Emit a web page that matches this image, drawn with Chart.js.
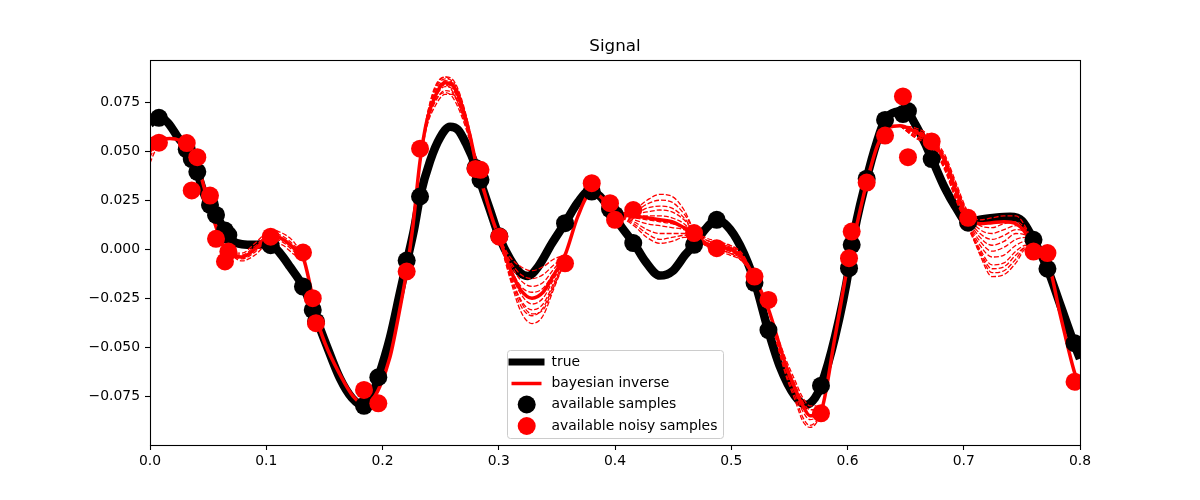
<!DOCTYPE html>
<html><head><meta charset="utf-8">
<script src="https://cdn.jsdelivr.net/npm/chart.js@4/dist/chart.umd.min.js"></script>
<style>html,body{margin:0;padding:0;background:#fff;}canvas{display:block;}</style>
</head><body>
<canvas id="c" width="1200" height="500"></canvas>
<script>
const titleText = 'Signal';
const xTicks = [0.0,0.1,0.2,0.3,0.4,0.5,0.6,0.7,0.8];
const yTicks = [-0.075,-0.050,-0.025,0.000,0.025,0.050,0.075];
const legendLabels = ['true','bayesian inverse','available samples','available noisy samples'];

const trueX = [0.0000,0.0077,0.0155,0.0241,0.0318,0.0404,0.0473,0.0516,0.0568,0.0645,0.0705,0.0791,0.0903,0.0989,0.1041,0.1118,0.1204,0.1316,0.1402,0.1505,0.1634,0.1738,0.1841,0.1901,0.1961,0.2065,0.2151,0.2211,0.2271,0.2323,0.2409,0.2495,0.2581,0.2649,0.2718,0.2804,0.2839,0.2925,0.3002,0.3097,0.3183,0.3252,0.3338,0.3458,0.3570,0.3682,0.3785,0.3871,0.3966,0.4060,0.4163,0.4258,0.4387,0.4499,0.4602,0.4680,0.4774,0.4877,0.4963,0.5075,0.5204,0.5316,0.5419,0.5548,0.5643,0.5720,0.5772,0.5892,0.6013,0.6039,0.6165,0.6254,0.6323,0.6409,0.6503,0.6581,0.6667,0.6727,0.6839,0.6925,0.7037,0.7140,0.7269,0.7398,0.7501,0.7600,0.7720,0.7828,0.7948,0.8000];
const trueY = [0.064,0.0675,0.0645,0.057,0.051,0.0395,0.027,0.0226,0.0175,0.0095,0.0045,0.0025,0.0022,0.0025,0.0022,-0.002,-0.009,-0.019,-0.031,-0.047,-0.066,-0.076,-0.080,-0.076,-0.066,-0.045,-0.022,-0.006,0.010,0.027,0.045,0.057,0.0625,0.061,0.054,0.042,0.035,0.020,0.0066,-0.005,-0.012,-0.0137,-0.009,0.003,0.0133,0.024,0.030,0.027,0.0195,0.011,0.003,-0.006,-0.0135,-0.011,-0.003,0.0022,0.010,0.0148,0.012,0.002,-0.017,-0.041,-0.060,-0.075,-0.0795,-0.076,-0.0697,-0.045,-0.0097,0.0022,0.036,0.055,0.066,0.070,0.0705,0.064,0.054,0.046,0.031,0.022,0.0135,0.015,0.016,0.0165,0.0145,0.0048,-0.0100,-0.028,-0.048,-0.056];

const meanX = [0.0000,0.0077,0.0172,0.0258,0.0318,0.0404,0.0473,0.0533,0.0594,0.0671,0.0791,0.0903,0.1041,0.1144,0.1247,0.1316,0.1376,0.1428,0.1505,0.1634,0.1746,0.1841,0.1910,0.1978,0.2065,0.2151,0.2211,0.2262,0.2323,0.2383,0.2452,0.2538,0.2598,0.2667,0.2753,0.2804,0.2882,0.2942,0.3002,0.3097,0.3191,0.3286,0.3381,0.3475,0.3570,0.3682,0.3785,0.3871,0.4000,0.4163,0.4275,0.4387,0.4490,0.4594,0.4680,0.4774,0.4877,0.4989,0.5092,0.5196,0.5316,0.5462,0.5548,0.5617,0.5677,0.5729,0.5772,0.5892,0.6013,0.6090,0.6165,0.6258,0.6352,0.6452,0.6581,0.6727,0.6839,0.6933,0.7037,0.7140,0.7243,0.7346,0.7449,0.7535,0.7604,0.7716,0.7828,0.7948,0.8000];
const meanY = [0.050,0.0555,0.0565,0.0555,0.053,0.044,0.030,0.018,0.007,-0.002,-0.004,0.000,0.0068,0.005,0.000,-0.004,-0.018,-0.034,-0.048,-0.064,-0.075,-0.079,-0.077,-0.070,-0.055,-0.030,-0.010,0.012,0.045,0.066,0.078,0.085,0.084,0.076,0.058,0.044,0.028,0.016,0.006,-0.010,-0.021,-0.025,-0.022,-0.013,-0.003,0.017,0.028,0.027,0.018,0.017,0.016,0.015,0.014,0.011,0.008,0.003,0.001,0.000,-0.004,-0.014,-0.030,-0.058,-0.071,-0.080,-0.085,-0.085,-0.083,-0.045,-0.005,0.015,0.034,0.053,0.062,0.063,0.060,0.055,0.045,0.030,0.016,0.013,0.0135,0.014,0.013,0.008,0.000,-0.005,-0.033,-0.062,-0.071];

// posterior sample curves (dashed), only where they separate from the main red curve
const bandFX = [0.0000,0.0043,0.0086,0.0155];
const bandF = [
 [0.057,0.057,0.057,0.0565],
 [0.054,0.056,0.0565,0.0565],
 [0.047,0.052,0.055,0.0565],
 [0.044,0.050,0.054,0.0565]];
const bandGX = [0.0671,0.0791,0.0903,0.1041,0.1144,0.1247,0.1316];
const bandG = [
 [-0.002,-0.002,0.003,0.0095,0.008,0.003,-0.004],
 [-0.002,-0.003,0.0015,0.008,0.0065,0.0015,-0.004],
 [-0.002,-0.005,-0.0015,0.0055,0.0035,-0.0015,-0.004],
 [-0.002,-0.006,-0.003,0.004,0.002,-0.003,-0.004]];
const bandAX = [0.2323,0.2383,0.2452,0.2538,0.2598,0.2667,0.2753,0.2804];
const bandA = [
 [0.045,0.068,0.082,0.088,0.087,0.079,0.060,0.044],
 [0.045,0.067,0.081,0.087,0.086,0.078,0.059,0.044],
 [0.045,0.067,0.080,0.086,0.085,0.077,0.059,0.044],
 [0.045,0.066,0.078,0.084,0.083,0.075,0.058,0.044],
 [0.045,0.065,0.077,0.083,0.082,0.074,0.057,0.044],
 [0.045,0.064,0.075,0.081,0.080,0.073,0.057,0.044],
 [0.045,0.063,0.073,0.079,0.079,0.072,0.056,0.044],
 [0.045,0.065,0.076,0.080,0.078,0.070,0.055,0.044],
 [0.045,0.067,0.079,0.084,0.081,0.072,0.056,0.044],
 [0.045,0.068,0.083,0.088,0.085,0.075,0.058,0.044]];
const bandBX = [0.3002,0.3097,0.3191,0.3286,0.3381,0.3475,0.3570];
const bandB = [
 [0.006,-0.004,-0.009,-0.011,-0.009,-0.005,-0.003],
 [0.006,-0.006,-0.013,-0.015,-0.013,-0.008,-0.004],
 [0.006,-0.007,-0.016,-0.019,-0.017,-0.010,-0.004],
 [0.006,-0.009,-0.019,-0.022,-0.020,-0.012,-0.004],
 [0.006,-0.010,-0.021,-0.025,-0.022,-0.013,-0.005],
 [0.006,-0.011,-0.023,-0.028,-0.025,-0.015,-0.005],
 [0.006,-0.012,-0.026,-0.031,-0.028,-0.017,-0.005],
 [0.006,-0.014,-0.029,-0.034,-0.030,-0.018,-0.006],
 [0.006,-0.015,-0.032,-0.038,-0.034,-0.020,-0.006],
 [0.006,-0.013,-0.027,-0.033,-0.031,-0.019,-0.006]];
const bandCX = [0.4000,0.4163,0.4275,0.4387,0.4490,0.4594,0.4680,0.4774,0.4877,0.4989,0.5092,0.5196];
const bandC = [
 [0.018,0.020,0.025,0.028,0.027,0.020,0.010,0.006,0.004,0.002,-0.002,-0.014],
 [0.018,0.019,0.023,0.025,0.024,0.018,0.010,0.005,0.003,0.002,-0.003,-0.014],
 [0.018,0.018,0.021,0.022,0.021,0.016,0.009,0.005,0.003,0.001,-0.003,-0.014],
 [0.018,0.018,0.019,0.020,0.019,0.015,0.009,0.004,0.002,0.001,-0.004,-0.014],
 [0.018,0.017,0.017,0.017,0.016,0.013,0.008,0.004,0.001,0.000,-0.004,-0.014],
 [0.018,0.016,0.015,0.014,0.013,0.011,0.008,0.003,0.001,-0.001,-0.005,-0.014],
 [0.018,0.015,0.013,0.012,0.011,0.010,0.007,0.003,0.000,-0.001,-0.005,-0.014],
 [0.018,0.014,0.010,0.008,0.008,0.008,0.007,0.002,0.000,-0.002,-0.006,-0.014],
 [0.018,0.012,0.006,0.003,0.004,0.006,0.006,0.002,-0.001,-0.003,-0.006,-0.014],
 [0.018,0.013,0.008,0.005,0.006,0.007,0.007,0.003,0.000,-0.002,-0.005,-0.014]];
const bandDX = [0.5316,0.5462,0.5548,0.5617,0.5677,0.5729,0.5772];
const bandD = [
 [-0.030,-0.055,-0.067,-0.076,-0.080,-0.080,-0.083],
 [-0.030,-0.057,-0.069,-0.078,-0.082,-0.082,-0.083],
 [-0.030,-0.058,-0.071,-0.081,-0.085,-0.084,-0.083],
 [-0.030,-0.060,-0.073,-0.083,-0.087,-0.086,-0.083],
 [-0.030,-0.062,-0.075,-0.086,-0.090,-0.088,-0.083],
 [-0.030,-0.063,-0.077,-0.088,-0.091,-0.089,-0.083]];
const bandEX = [0.6452,0.6581,0.6727,0.6839,0.6933,0.7037,0.7140,0.7243,0.7346,0.7449,0.7535,0.7604,0.7716];
const bandE = [
 [0.063,0.062,0.057,0.048,0.034,0.019,0.015,0.016,0.017,0.017,0.011,0.002,-0.005],
 [0.063,0.061,0.056,0.047,0.033,0.018,0.012,0.011,0.013,0.014,0.010,0.002,-0.005],
 [0.063,0.061,0.056,0.046,0.032,0.017,0.010,0.008,0.010,0.012,0.009,0.001,-0.005],
 [0.063,0.060,0.055,0.045,0.030,0.016,0.008,0.005,0.007,0.010,0.008,0.000,-0.005],
 [0.063,0.059,0.054,0.044,0.029,0.015,0.006,0.002,0.004,0.008,0.007,0.000,-0.005],
 [0.063,0.059,0.054,0.043,0.028,0.014,0.004,-0.001,0.001,0.005,0.006,-0.001,-0.005],
 [0.063,0.058,0.053,0.042,0.027,0.013,0.002,-0.004,-0.003,0.002,0.004,-0.001,-0.005],
 [0.063,0.058,0.053,0.041,0.026,0.012,0.000,-0.008,-0.007,-0.001,0.002,-0.001,-0.005],
 [0.063,0.057,0.052,0.040,0.025,0.011,-0.002,-0.012,-0.011,-0.005,0.001,-0.001,-0.005],
 [0.063,0.057,0.052,0.041,0.026,0.012,-0.001,-0.010,-0.009,-0.003,0.001,-0.001,-0.005],
 [0.063,0.058,0.053,0.042,0.027,0.013,-0.003,-0.014,-0.013,-0.007,0.000,-0.001,-0.005]];

const sampleX = [0.0077,0.0316,0.0359,0.0407,0.0516,0.0568,0.0645,0.0674,0.1038,0.1316,0.1400,0.1428,0.1841,0.1964,0.2208,0.2323,0.2800,0.2843,0.3005,0.3570,0.3800,0.3957,0.4000,0.4157,0.4680,0.4875,0.5200,0.5320,0.5772,0.6013,0.6036,0.6165,0.6323,0.6477,0.6520,0.6724,0.7037,0.7600,0.7720,0.7953];
const sampleTrue = [0.0671,0.0510,0.0460,0.0395,0.0226,0.0175,0.0095,0.0072,0.0020,-0.0191,-0.0310,-0.0370,-0.0800,-0.0654,-0.0058,0.0269,0.0415,0.0354,0.0066,0.0133,0.0294,0.0205,0.0175,0.0031,0.0022,0.0150,-0.0172,-0.0413,-0.0697,-0.0097,0.0022,0.0360,0.0660,0.0690,0.0705,0.0460,0.0135,0.0048,-0.0100,-0.0480];
const sampleNoisy = [0.0544,0.0542,0.0300,0.0470,0.0274,0.0053,-0.0063,-0.0012,0.0064,-0.0017,-0.0250,-0.0378,-0.0719,-0.0787,-0.0114,0.0513,0.0410,0.0405,0.0064,-0.0072,0.0337,0.0235,0.0150,0.0200,0.0082,0.0005,-0.0140,-0.0259,-0.0838,-0.0046,0.0090,0.0340,0.0580,0.0780,0.0470,0.0550,0.0160,-0.0012,-0.0020,-0.0677];

const zip = (xs, ys) => xs.map((x, i) => ({x: x, y: ys[i]}));
const RED = '#ff0000', BLACK = '#000000';
const FONT = '"DejaVu Sans", sans-serif';

const datasets = [];
datasets.push({label: legendLabels[0], data: zip(trueX, trueY), borderColor: BLACK, borderWidth: 8.5,
  pointRadius: 0, cubicInterpolationMode: 'monotone', borderJoinStyle: 'round', order: 5, clip: 0});
[[bandFX, bandF], [bandGX, bandG], [bandAX, bandA], [bandBX, bandB], [bandCX, bandC], [bandDX, bandD], [bandEX, bandE]]
  .forEach(([bx, curves]) => curves.forEach(c => datasets.push({data: zip(bx, c), borderColor: RED,
    borderWidth: 1.3, borderDash: [5, 2], pointRadius: 0, cubicInterpolationMode: 'monotone', order: 4, clip: 0})));
datasets.push({label: legendLabels[1], data: zip(meanX, meanY), borderColor: RED, borderWidth: 3.5,
  pointRadius: 0, cubicInterpolationMode: 'monotone', borderJoinStyle: 'round', order: 3, clip: 0});
datasets.push({label: legendLabels[2], data: zip(sampleX, sampleTrue), showLine: false, pointRadius: 9,
  pointBackgroundColor: BLACK, pointBorderColor: BLACK, pointBorderWidth: 0, order: 2, clip: 0});
datasets.push({label: legendLabels[3], data: zip(sampleX, sampleNoisy), showLine: false, pointRadius: 9,
  pointBackgroundColor: RED, pointBorderColor: RED, pointBorderWidth: 0, order: 1, clip: 0});

const fmtY = v => (v < 0 ? '\u2212' : '') + Math.abs(v).toFixed(3);

const bgPlugin = {
  id: 'bg',
  beforeDraw(chart) {
    const ctx = chart.ctx; ctx.save(); ctx.fillStyle = '#fff';
    ctx.fillRect(0, 0, chart.width, chart.height); ctx.restore();
  }
};
const framePlugin = {
  id: 'frame',
  afterDatasetsDraw(chart) {
    const a = chart.chartArea, ctx = chart.ctx;
    ctx.save(); ctx.strokeStyle = '#000'; ctx.lineWidth = 1.1;
    ctx.strokeRect(Math.round(a.left) + 0.5, Math.round(a.top) + 0.5,
      Math.round(a.right) - Math.round(a.left), Math.round(a.bottom) - Math.round(a.top));
    ctx.restore();
  },
  afterDraw(chart) {
    const a = chart.chartArea, ctx = chart.ctx;
    ctx.save();
    // title
    ctx.fillStyle = '#000'; ctx.font = '16.7px ' + FONT; ctx.textAlign = 'center'; ctx.textBaseline = 'alphabetic';
    ctx.fillText(titleText, (a.left + a.right) / 2, a.top - 9);
    // legend
    const bx = 507.5, by = 350.5, bw = 216, bh = 88;
    ctx.beginPath(); ctx.roundRect(bx, by, bw, bh, 3);
    ctx.fillStyle = 'rgba(255,255,255,0.8)'; ctx.fill();
    ctx.strokeStyle = '#cccccc'; ctx.lineWidth = 1; ctx.stroke();
    const rows = [362, 383.5, 404.5, 426];
    ctx.lineCap = 'butt';
    ctx.strokeStyle = BLACK; ctx.lineWidth = 7;
    ctx.beginPath(); ctx.moveTo(508.5, rows[0]); ctx.lineTo(544.5, rows[0]); ctx.stroke();
    ctx.strokeStyle = RED; ctx.lineWidth = 3.5;
    ctx.beginPath(); ctx.moveTo(511.5, rows[1]); ctx.lineTo(541.5, rows[1]); ctx.stroke();
    ctx.fillStyle = BLACK; ctx.beginPath(); ctx.arc(526.7, rows[2], 9, 0, Math.PI * 2); ctx.fill();
    ctx.fillStyle = RED; ctx.beginPath(); ctx.arc(526.7, rows[3], 9, 0, Math.PI * 2); ctx.fill();
    ctx.fillStyle = '#000'; ctx.font = '13.9px ' + FONT; ctx.textAlign = 'left'; ctx.textBaseline = 'middle';
    legendLabels.forEach((t, i) => ctx.fillText(t, 551.5, rows[i]));
    ctx.restore();
  }
};

const axisCommon = {
  type: 'linear',
  grid: {drawOnChartArea: false, drawTicks: true, tickLength: 5, color: '#000', tickColor: '#000', tickWidth: 1.1},
  border: {display: false},
};

new Chart(document.getElementById('c').getContext('2d'), {
  type: 'line',
  data: {datasets: datasets},
  options: {
    responsive: false, animation: false, devicePixelRatio: 1, events: [],
    layout: {padding: {top: 60, right: 120, left: 0, bottom: 0}},
    plugins: {legend: {display: false}, tooltip: {enabled: false}, title: {display: false}},
    scales: {
      x: Object.assign({}, axisCommon, {
        min: 0, max: 0.8,
        afterFit: s => { s.height = 55; },
        afterBuildTicks: s => { s.ticks = xTicks.map(v => ({value: v})); },
        ticks: {callback: v => Number(v).toFixed(1), color: '#000', font: {family: FONT, size: 13.9},
          padding: 3, maxRotation: 0, autoSkip: false}
      }),
      y: Object.assign({}, axisCommon, {
        min: -0.1, max: 0.0966,
        afterFit: s => { s.width = 150; },
        afterBuildTicks: s => { s.ticks = yTicks.map(v => ({value: v})); },
        ticks: {callback: v => fmtY(Number(v)), color: '#000', font: {family: FONT, size: 13.9},
          padding: 5, autoSkip: false}
      })
    }
  },
  plugins: [bgPlugin, framePlugin]
});
</script>
</body></html>
